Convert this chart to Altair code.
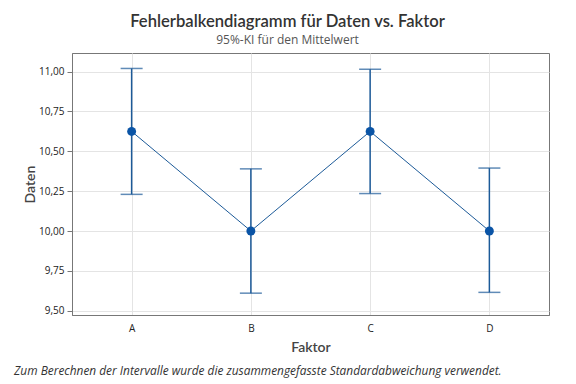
import altair as alt
import pandas as pd

categories = ["A", "B", "C", "D"]
means = [10.625, 10.0, 10.625, 10.0]
lower = [10.23, 9.61, 10.235, 9.615]
upper = [11.02, 10.39, 11.015, 10.395]
y_ticks = [9.5, 9.75, 10.0, 10.25, 10.5, 10.75, 11.0]

title_text = "Fehlerbalkendiagramm für Daten vs. Faktor"
subtitle_text = "95%-KI für den Mittelwert"
footnote = "Zum Berechnen der Intervalle wurde die zusammengefasste Standardabweichung verwendet."

df = pd.DataFrame({"Faktor": categories, "Mittel": means, "lo": lower, "hi": upper})

FONT = "Open Sans"
TFONT = "Lato"
BLUE = "#1c5a98"
DOT = "#0a54a6"

x_enc = alt.X("Faktor:N", sort=categories,
              scale=alt.Scale(type="point", padding=0.5),
              axis=alt.Axis(title="Faktor", labelAngle=0, ticks=False, labelPadding=8,
                            labelFontSize=10, labelColor="#222", titleFontSize=14,
                            titleColor="#444", titleFontWeight=600, titleY=32,
                            titleBaseline="middle", grid=True, gridColor="#e4e4e4",
                            domainColor="#777", labelFont=FONT, titleFont=TFONT))

y_scale = alt.Scale(domain=[9.473, 11.117], nice=False, zero=False)
y_axis = alt.Axis(title="Daten", values=y_ticks,
                  labelExpr="replace(format(datum.value, '.2f'), '.', ',')",
                  tickSize=5, tickColor="#777", labelPadding=3, labelFontSize=10,
                  labelColor="#222", titleFontSize=14, titleColor="#444",
                  titleFontWeight=600, titleX=-42, titleY=131, titleAngle=-90,
                  titleAlign="center", titleBaseline="middle",
                  grid=True, gridColor="#e4e4e4", domainColor="#777",
                  labelFont=FONT, titleFont=TFONT)

base = alt.Chart(df)

rules = base.mark_rule(color=BLUE, strokeWidth=1.5).encode(
    x=x_enc, y=alt.Y("lo:Q", scale=y_scale, axis=y_axis), y2="hi:Q")
cap_lo = base.mark_tick(color=BLUE, orient="horizontal", size=22, thickness=1.5).encode(
    x=x_enc, y=alt.Y("lo:Q", scale=y_scale))
cap_hi = base.mark_tick(color=BLUE, orient="horizontal", size=22, thickness=1.5).encode(
    x=x_enc, y=alt.Y("hi:Q", scale=y_scale))
line = base.mark_line(color=BLUE, strokeWidth=1).encode(
    x=x_enc, y=alt.Y("Mittel:Q", scale=y_scale))
pts = base.mark_circle(color=DOT, size=80, opacity=1).encode(
    x=x_enc, y=alt.Y("Mittel:Q", scale=y_scale))

note = alt.Chart(pd.DataFrame({"t": [footnote]})).mark_text(
    align="left", baseline="alphabetic", fontStyle="italic", fontSize=11.9,
    color="#333", font=FONT).encode(x=alt.value(-58), y=alt.value(322), text="t")

chart = alt.layer(rules, cap_lo, cap_hi, line, pts, note).properties(
    width=477, height=262,
    autosize=alt.AutoSizeParams(type="none"),
    padding={"left": 64, "top": 45, "right": 19, "bottom": 69},
    title=alt.TitleParams(text=title_text, subtitle=subtitle_text, anchor="middle",
                          frame="group", dx=-23, offset=7, fontSize=16.6,
                          fontWeight=600, color="#333", font=TFONT,
                          subtitleFont=FONT, subtitleFontSize=12,
                          subtitleColor="#555", subtitlePadding=4)
).configure_view(stroke="#777", strokeWidth=1)

chart.save("out.html", embed_options={"renderer": "svg", "actions": False})
